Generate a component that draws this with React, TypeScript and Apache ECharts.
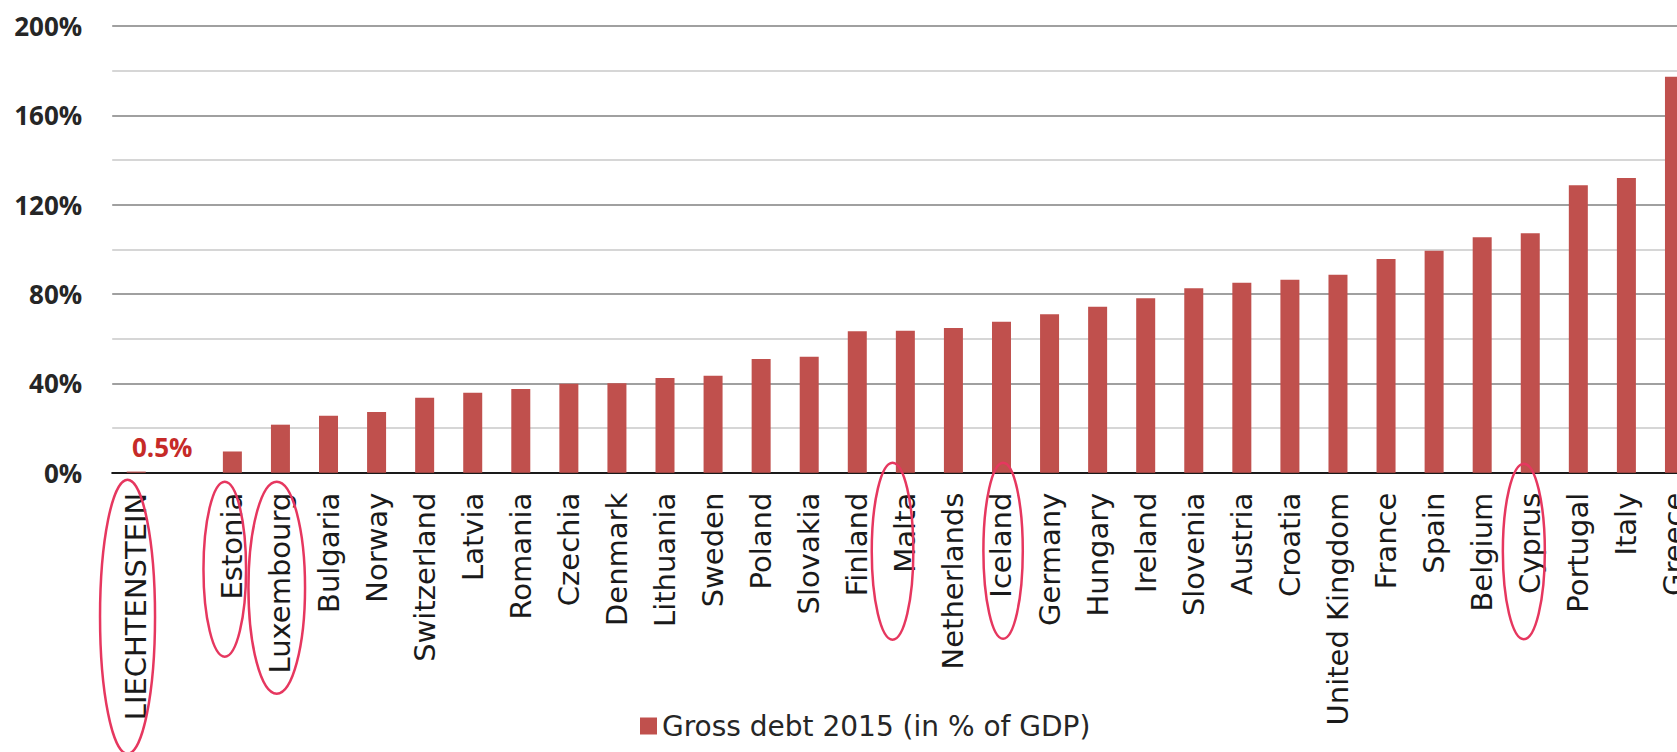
import React, { useEffect, useRef } from 'react';
import * as echarts from 'echarts';

const categories: string[] = [
  'LIECHTENSTEIN', '', 'Estonia', 'Luxembourg', 'Bulgaria', 'Norway', 'Switzerland', 'Latvia',
  'Romania', 'Czechia', 'Denmark', 'Lithuania', 'Sweden', 'Poland', 'Slovakia', 'Finland',
  'Malta', 'Netherlands', 'Iceland', 'Germany', 'Hungary', 'Ireland', 'Slovenia', 'Austria',
  'Croatia', 'United Kingdom', 'France', 'Spain', 'Belgium', 'Cyprus', 'Portugal', 'Italy', 'Greece',
];

const grossDebt2015: (number | null)[] = [
  0.5, null, 9.5, 21.5, 25.5, 27.2, 33.6, 35.8,
  37.5, 39.8, 40.1, 42.4, 43.4, 50.9, 51.9, 63.3,
  63.6, 64.8, 67.6, 70.9, 74.3, 78.1, 82.6, 85.1,
  86.4, 88.6, 95.7, 99.4, 105.4, 107.2, 128.7, 131.9, 177.3,
];

const seriesName = 'Gross debt 2015 (in % of GDP)';
const labelledCategory = 'LIECHTENSTEIN';
const circledCategories: string[] = ['LIECHTENSTEIN', 'Estonia', 'Luxembourg', 'Malta', 'Iceland', 'Cyprus'];

// hand-drawn annotation ellipse geometry (offsets relative to category centre / baseline)
const circleLayout: Record<string, { dx: number; top: number; bottom: number; rx: number }> = {
  LIECHTENSTEIN: { dx: -8.7, top: 7, bottom: 281, rx: 27.5 },
  Estonia: { dx: -7.6, top: 9, bottom: 184, rx: 21.3 },
  Luxembourg: { dx: -3.7, top: 9, bottom: 221, rx: 28.3 },
  Malta: { dx: -12.8, top: -10, bottom: 167, rx: 20.8 },
  Iceland: { dx: 1.6, top: -10, bottom: 166, rx: 19.7 },
  Cyprus: { dx: -6.4, top: -9, bottom: 166.5, rx: 21 },
};

export default function App() {
  const ref = useRef<HTMLDivElement>(null);
  useEffect(() => {
    if (!ref.current) return;
    const chart = echarts.init(ref.current, null, { renderer: 'svg' });
    const data = grossDebt2015.map((v, i) =>
      categories[i] === labelledCategory
        ? {
            value: v,
            label: {
              show: true,
              position: 'top',
              offset: [26, -7],
              formatter: '{c}%',
              color: '#c62a28',
              fontFamily: 'Open Sans',
              fontWeight: 'bold',
              fontSize: 26,
            },
          }
        : v
    );
    chart.setOption({
      animation: false,
      backgroundColor: '#ffffff',
      grid: { left: 112.2, top: 26, width: 1586.3, height: 446.7, containLabel: false },
      legend: {
        left: 640,
        top: 712,
        padding: 0,
        icon: 'rect',
        itemWidth: 17,
        itemHeight: 17,
        data: [seriesName],
        textStyle: { fontFamily: 'DejaVu Sans', fontSize: 28, color: '#262626' },
      },
      xAxis: {
        type: 'category',
        data: categories,
        axisLine: { show: true, lineStyle: { color: '#1a1a1a', width: 2 } },
        axisTick: { show: false },
        axisLabel: {
          interval: 0,
          rotate: 90,
          margin: 20,
          fontFamily: 'DejaVu Sans',
          fontSize: 29,
          color: '#1a1a1a',
        },
        splitLine: { show: false },
      },
      yAxis: {
        type: 'value',
        min: 0,
        max: 200,
        interval: 40,
        axisLine: { show: false },
        axisTick: { show: false },
        axisLabel: {
          formatter: '{value}%',
          margin: 30,
          fontFamily: 'Open Sans',
          fontWeight: 'bold',
          fontSize: 26,
          color: '#262626',
        },
        splitLine: { show: true, lineStyle: { color: '#a0a0a0', width: 2 } },
        minorTick: { show: false, splitNumber: 2 },
        minorSplitLine: { show: true, lineStyle: { color: '#c8c8c8', width: 1.5 } },
      },
      series: [
        {
          name: seriesName,
          type: 'bar',
          data,
          barWidth: 19,
          itemStyle: { color: '#c0504d' },
        },
      ],
    });

    const baseY = chart.convertToPixel({ yAxisIndex: 0 }, 0) as number;
    const graphics = circledCategories.map((name) => {
      const idx = categories.indexOf(name);
      const cx = chart.convertToPixel({ xAxisIndex: 0 }, idx) as number;
      const g = circleLayout[name];
      const top = baseY + g.top;
      const bottom = baseY + g.bottom;
      return {
        type: 'ellipse',
        z: 100,
        shape: { cx: cx + g.dx, cy: (top + bottom) / 2, rx: g.rx, ry: (bottom - top) / 2 },
        style: { fill: 'none', stroke: '#e6375f', lineWidth: 2.5 },
      };
    });
    chart.setOption({ graphic: graphics });

    return () => chart.dispose();
  }, []);

  return (
    <div
      style={{
        position: 'fixed',
        left: 0,
        top: 0,
        width: 1677,
        height: 752,
        overflow: 'hidden',
        background: '#ffffff',
      }}
    >
      <div ref={ref} style={{ width: 1710, height: 752 }} />
    </div>
  );
}
